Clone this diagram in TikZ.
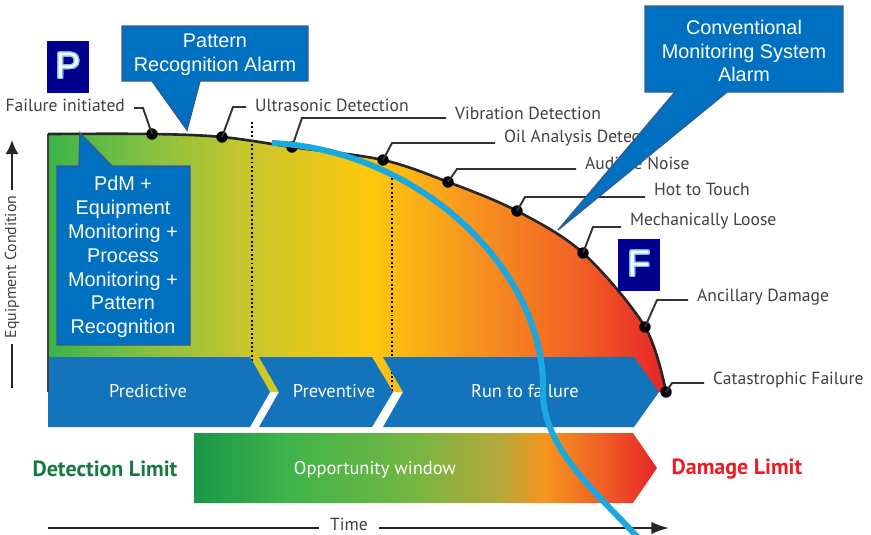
\documentclass[tikz,border=0pt]{standalone}
\usepackage{fontspec}
\usepackage{contour}
\setmainfont{PT Sans}
\newfontfamily\arialfont{Liberation Sans}
\usetikzlibrary{arrows.meta}

\definecolor{labelgray}{RGB}{64,64,64}
\definecolor{chevblue}{RGB}{20,116,187}
\definecolor{callblue}{RGB}{0,112,192}
\definecolor{callborder}{RGB}{52,90,150}
\definecolor{boxnavy}{RGB}{0,0,140}
\definecolor{glowblue}{RGB}{120,190,250}
\definecolor{arcblue}{RGB}{27,168,224}
\definecolor{detgreen}{RGB}{22,122,64}
\definecolor{dmgred}{RGB}{236,28,36}

\definecolor{sa}{RGB}{59,181,74}
\definecolor{sb}{RGB}{132,192,65}
\definecolor{sc}{RGB}{200,198,45}
\definecolor{sd}{RGB}{253,200,12}
\definecolor{se}{RGB}{247,150,30}
\definecolor{sf}{RGB}{241,96,36}
\definecolor{sg}{RGB}{230,36,40}
\pgfdeclarehorizontalshading{condition}{100bp}{color(0bp)=(sa); color(25bp)=(sa); color(33bp)=(sb); color(41bp)=(sc); color(51bp)=(sd); color(59bp)=(se); color(68bp)=(sf); color(75bp)=(sg); color(100bp)=(sg)}

\definecolor{wa}{RGB}{26,150,72}
\definecolor{wb}{RGB}{62,180,74}
\definecolor{wc}{RGB}{118,182,66}
\definecolor{wd}{RGB}{180,168,58}
\definecolor{we}{RGB}{246,148,30}
\definecolor{wf}{RGB}{240,96,37}
\definecolor{wg}{RGB}{232,36,40}
\pgfdeclarehorizontalshading{window}{100bp}{color(0bp)=(wa); color(25bp)=(wa); color(35bp)=(wb); color(49bp)=(wc); color(58bp)=(wd); color(63bp)=(we); color(69bp)=(wf); color(75bp)=(wg); color(100bp)=(wg)}

\contourlength{0.7pt}

\begin{document}
\begin{tikzpicture}
  [x=0.02cm, y=-0.02cm,
   cdot/.style={circle, fill=black, inner sep=0, minimum size=6.5pt},
   lbl/.style={inner xsep=5pt, inner ysep=1pt, text=labelgray, font=\fontsize{10}{12}\selectfont},
   leader/.style={line width=1.1pt, black!80},
   dotline/.style={line width=1.1pt, dash pattern=on 1.1pt off 1.4pt},
   chev/.style={fill=chevblue},
   chevtext/.style={text=white, font=\fontsize{10.5}{12}\selectfont},
   callout/.style={fill=callblue, draw=callborder, line width=0.8pt},
   calltext/.style={text=white, align=center, font=\arialfont\fontsize{11.3}{13.6}\selectfont},
   letterbox/.style={fill=boxnavy, draw=blue!70!black, line width=0.4pt, text=white, minimum width=23pt, minimum height=29pt, inner sep=0, font=\arialfont\fontsize{21}{21}\selectfont},
   limit/.style={font=\bfseries\fontsize{12.5}{14}\selectfont}]

  \useasboundingbox (0,0) rectangle (871,534);

  \shade[shading=condition] (48,392) -- plot[smooth, tension=0.55] coordinates {(48,134) (152,134) (222,137) (292,147) (383,160) (448,182) (517,211) (583,253) (645,327) (666,392)} -- cycle;

  \draw[dotline] (252,122) -- (252,392);
  \draw[dotline] (392,174) -- (392,392);

  \fill[chev] (48,357) -- (250,357) -- (270,392) -- (250,427) -- (48,427) -- cycle;
  \fill[chev] (259,357) -- (372,357) -- (393,392) -- (372,427) -- (259,427) -- (279,392) -- cycle;
  \fill[chev] (383,357) -- (634,357) -- (659,392) -- (634,427) -- (383,427) -- (403,392) -- cycle;
  \node[chevtext] (t1) at (148,391) {Predictive};
  \node[chevtext] (t2) at (334,391) {Preventive};
  \node[chevtext] (t3) at (525,391) {Run to failure};

  \draw[line width=0.6pt, black!75] (48,134) -- (48,392);
  \draw[line width=1.5pt, black!85] plot[smooth, tension=0.55] coordinates {(48,134) (152,134) (222,137) (292,147) (383,160) (448,182) (517,211) (583,253) (645,327) (666,392)};

  \node[cdot] (d1) at (152,134) {};
  \node[cdot] (d2) at (222,137) {};
  \node[cdot] (d3) at (292,147) {};
  \node[cdot] (d4) at (383,160) {};
  \node[cdot] (d5) at (448,182) {};
  \node[cdot] (d6) at (517,211) {};
  \node[cdot] (d7) at (583,253) {};
  \node[cdot] (d8) at (645,327) {};
  \node[cdot] (d9) at (666,392) {};

  \coordinate (e1) at (143,108);
  \coordinate (e2) at (233,107);
  \coordinate (e3) at (302,118);
  \coordinate (e4) at (392,143);
  \coordinate (e5) at (457,169);
  \coordinate (e6) at (525,197);
  \coordinate (e7) at (593,227);
  \coordinate (e8) at (657,300);
  \coordinate (e9) at (672,383);

  \node[lbl, anchor=east] (l1) at (134,105) {Failure initiated};
  \node[lbl, anchor=west] (l2) at (246,105) {Ultrasonic Detection};
  \node[lbl, anchor=west] (l3) at (446,113) {Vibration Detection};
  \node[lbl, anchor=west] (l4) at (495,138) {Oil Analysis Detection};
  \node[lbl, anchor=west] (l5) at (576,163) {Audible Noise};
  \node[lbl, anchor=west] (l6) at (645,189) {Hot to Touch};
  \node[lbl, anchor=west] (l7) at (621,221) {Mechanically Loose};
  \node[lbl, anchor=west] (l8) at (688,297) {Ancillary Damage};
  \node[lbl, anchor=west] (l9) at (704,380) {Catastrophic Failure};

  \draw[leader] (d1.center) -- (e1) -- (l1.east |- e1);
  \draw[leader] (d2.center) -- (e2) -- (l2.west |- e2);
  \draw[leader] (d3.center) -- (e3) -- (l3.west |- e3);
  \draw[leader] (d4.center) -- (e4) -- (l4.west |- e4);
  \draw[leader] (d5.center) -- (e5) -- (l5.west |- e5);
  \draw[leader] (d6.center) -- (e6) -- (l6.west |- e6);
  \draw[leader] (d7.center) -- (e7) -- (l7.west |- e7);
  \draw[leader] (d8.center) -- (e8) -- (l8.west |- e8);
  \draw[leader] (d9.center) -- (e9) -- (l9.west |- e9);

  \shade[shading=window] (194,433) -- (633,433) -- (657,468) -- (633,503) -- (194,503) -- cycle;
  \node[chevtext] (ow) at (375,470) {Opportunity window};
  \node[limit, text=detgreen] (dl) at (105,469) {Detection Limit};
  \node[limit, text=dmgred] (ml) at (737,469) {Damage Limit};

  \node[lbl, font=\fontsize{9}{10}\selectfont, rotate=90, inner xsep=3pt] (yl) at (12,267) {Equipment Condition};
  \coordinate (ytop) at (12,140);
  \coordinate (ybot) at (12,388);
  \draw[line width=1.2pt, black!85, -{Latex[length=8pt, width=7.5pt]}] (yl.east) -- (ytop);
  \draw[line width=1.2pt, black!85] (yl.west) -- (ybot);

  \node[lbl, inner xsep=6pt] (tl) at (349,524) {Time};
  \coordinate (tleft) at (48,528);
  \coordinate (tright) at (669,528);
  \draw[line width=1.2pt, black!85] (tleft) -- (tl.west |- tleft);
  \draw[line width=1.2pt, black!85, -{Latex[length=10pt, width=7pt]}] (tl.east |- tright) -- (tright);

  \node[letterbox] (p) at (68,66.5) {\contour{glowblue}{P}};
  \node[letterbox] (f) at (639,264.5) {\contour{glowblue}{F}};

  \filldraw[callout] (122,26) -- (308,26) -- (308,81) -- (200,81) -- (187,130) -- (152,81) -- (122,81) -- cycle;
  \node[calltext] (pra) at (215,55) {Pattern\\Recognition Alarm};
  \filldraw[callout] (645,6) -- (843,6) -- (843,92) -- (727,92) -- (558,230) -- (675,92) -- (645,92) -- cycle;
  \node[calltext] (cmsa) at (744,51) {Conventional\\Monitoring System\\Alarm};
  \filldraw[callout] (57,166) -- (79,166) -- (80,133) -- (112,166) -- (190,166) -- (190,345) -- (57,345) -- cycle;
  \node[calltext] (pdm) at (123,257) {PdM +\\Equipment\\Monitoring +\\Process\\Monitoring +\\Pattern\\Recognition};

  \draw[line width=3.4pt, arcblue] (272,143) .. controls (420,150) and (545,270) .. (543,390) .. controls (542,450) and (600,495) .. (640,540);
\end{tikzpicture}
\end{document}
